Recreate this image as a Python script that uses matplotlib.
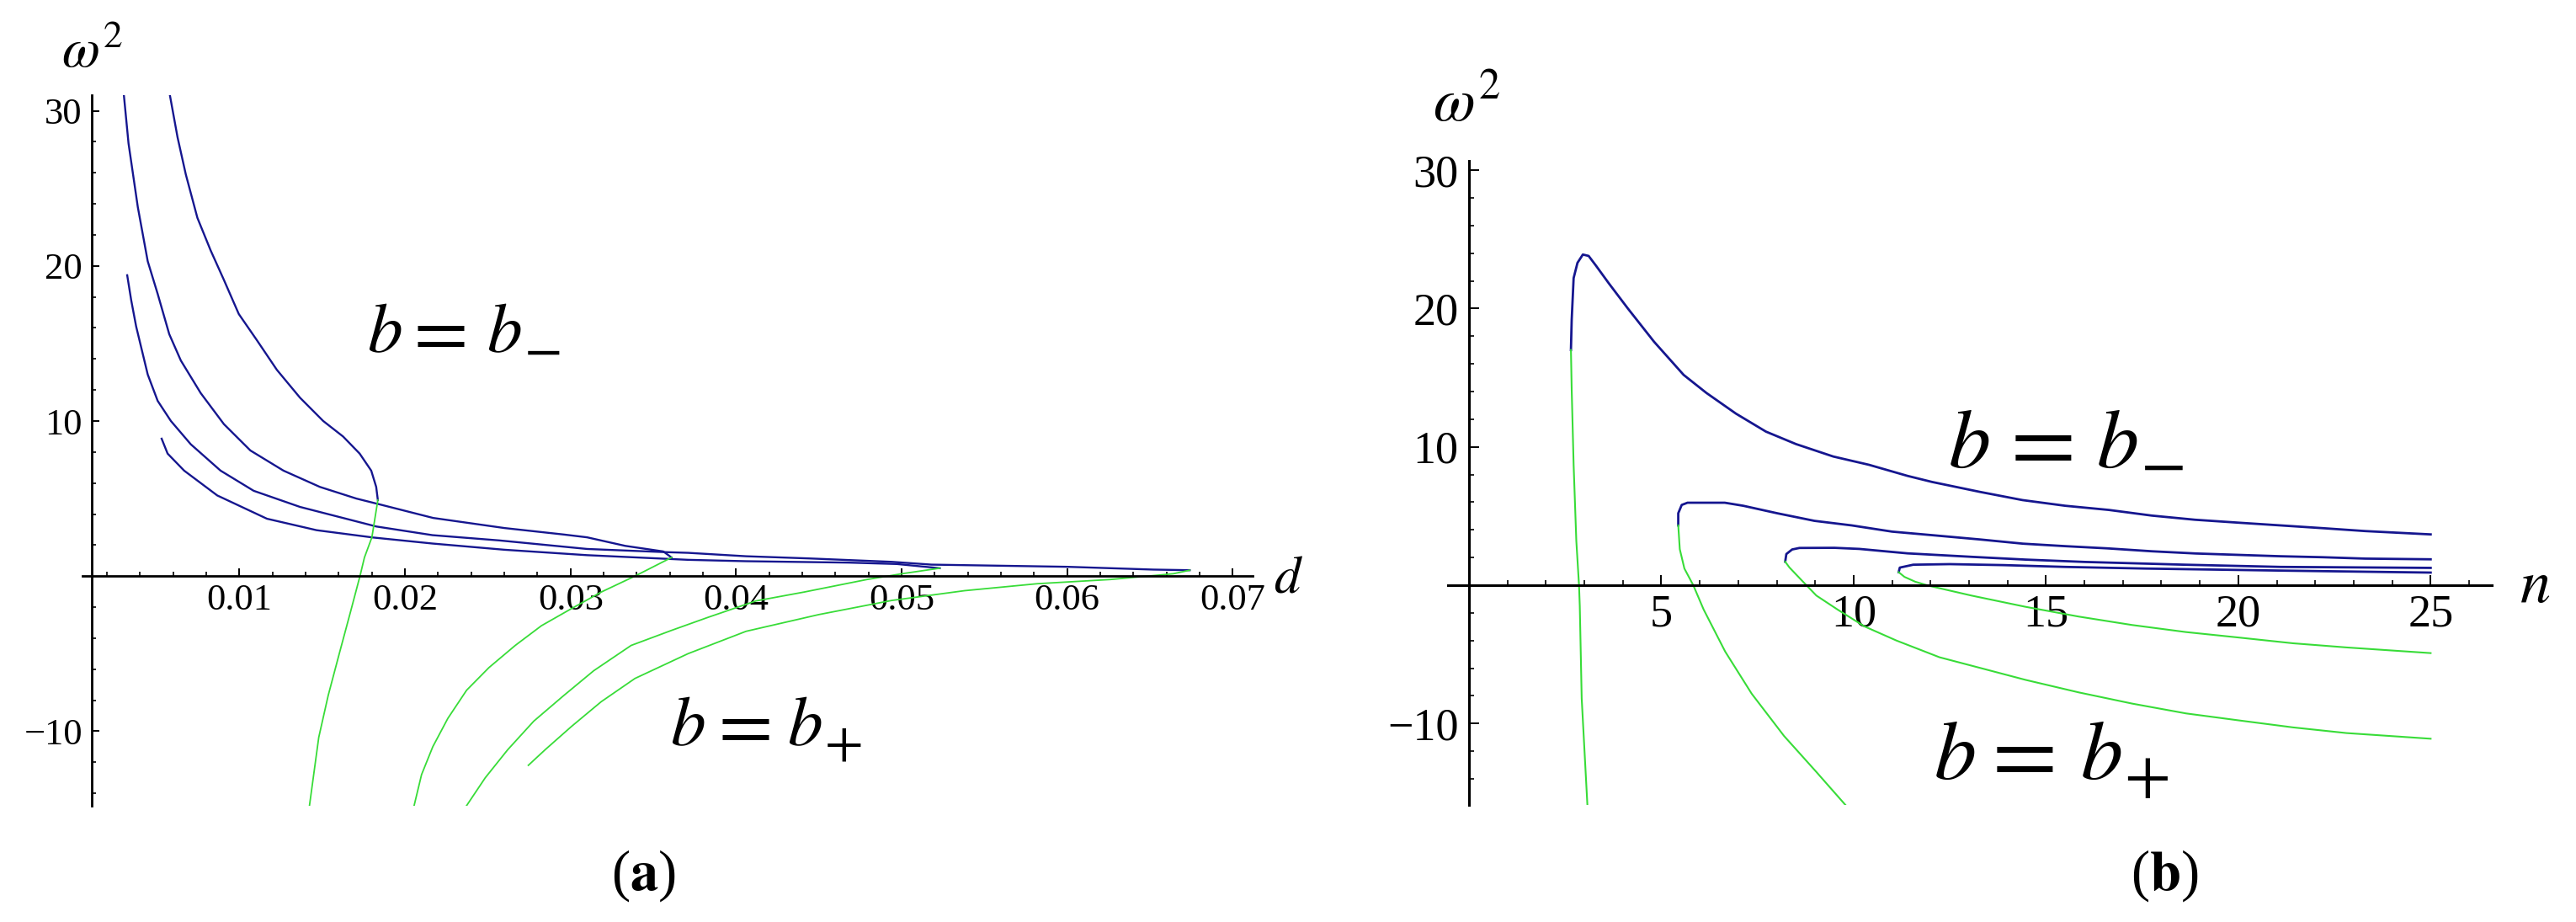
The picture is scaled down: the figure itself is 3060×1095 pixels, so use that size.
import numpy as np
import matplotlib
matplotlib.use("Agg")
import matplotlib.pyplot as plt
from matplotlib.ticker import FixedLocator

plt.rcParams['mathtext.fontset'] = 'stix'
plt.rcParams['font.family'] = ['Liberation Serif', 'DejaVu Serif']

############# Panel (a): omega^2 against d #############

# blue branches, b = b_-
d_A = [0.0058, 0.00626, 0.00676, 0.00746, 0.00826, 0.00906, 0.00996, 0.01106, 0.01226, 0.01366, 0.01506, 0.01626, 0.01726, 0.01796, 0.01826, 0.01836]
w_A = [31.0, 28.3, 25.9, 23.1, 21.0, 19.1, 16.9, 15.2, 13.3, 11.5, 10.0, 9.0, 7.9, 6.8, 5.75, 4.9]

d_B = [0.00302, 0.0033, 0.00386, 0.00446, 0.00506, 0.00576, 0.00646, 0.00766, 0.00906, 0.01066, 0.01266, 0.01486, 0.01706, 0.01856, 0.0217, 0.026, 0.0296, 0.031, 0.0333, 0.0356, 0.0361]
w_B = [31.0, 27.9, 23.8, 20.3, 18.2, 15.6, 13.9, 11.8, 9.8, 8.1, 6.8, 5.75, 5.0, 4.6, 3.75, 3.1, 2.68, 2.5, 1.95, 1.59, 1.2]

d_C = [0.00322, 0.00346, 0.00376, 0.00446, 0.00506, 0.00586, 0.00706, 0.00886, 0.01086, 0.01366, 0.01826, 0.02166, 0.0257, 0.031, 0.0356, 0.0371, 0.0406, 0.0444, 0.0494, 0.0518, 0.06, 0.0652, 0.0674]
w_C = [19.4, 17.8, 16.1, 13.0, 11.3, 10.0, 8.5, 6.8, 5.5, 4.46, 3.2, 2.64, 2.3, 1.75, 1.55, 1.5, 1.28, 1.14, 0.92, 0.74, 0.6, 0.42, 0.38]

d_D = [0.0053, 0.00566, 0.00666, 0.00866, 0.01166, 0.01466, 0.01806, 0.02166, 0.026, 0.031, 0.0371, 0.0406, 0.0468, 0.0497, 0.0523]
w_D = [8.86, 7.9, 6.8, 5.2, 3.7, 2.96, 2.49, 2.1, 1.7, 1.35, 1.05, 0.96, 0.87, 0.78, 0.51]

# green branches, b = b_+
d_G1 = [0.01836, 0.018, 0.01755, 0.01728, 0.01671, 0.01603, 0.01536, 0.01479, 0.01423]
w_G1 = [4.9, 2.5, 1.2, 0.0, -2.3, -5.0, -7.7, -10.4, -14.8]

d_G2 = [0.0361, 0.03389, 0.03185, 0.03005, 0.02824, 0.02666, 0.02507, 0.02372, 0.02259, 0.02168, 0.021, 0.02055]
w_G2 = [1.2, 0.0, -1.03, -2.1, -3.2, -4.47, -5.9, -7.36, -9.17, -11.0, -12.8, -14.8]

d_G3 = [0.0523, 0.05, 0.0479, 0.0441, 0.0412, 0.0383, 0.0361, 0.03366, 0.0314, 0.02959, 0.02778, 0.0262, 0.02485, 0.02372]
w_G3 = [0.51, 0.15, -0.22, -1.03, -1.6, -2.66, -3.5, -4.47, -6.1, -7.7, -9.35, -11.2, -13.0, -14.8]

d_G4 = [0.0674, 0.0664, 0.0626, 0.0582, 0.0538, 0.0494, 0.045, 0.0406, 0.0371, 0.03389, 0.03185, 0.03005, 0.02846, 0.02745]
w_G4 = [0.38, 0.15, -0.22, -0.49, -0.94, -1.57, -2.48, -3.56, -5.0, -6.6, -8.1, -9.7, -11.2, -12.2]

############# Panel (b): omega^2 against n #############

n_R1 = [2.65, 2.67, 2.72, 2.82, 2.96, 3.11, 3.30, 3.64, 4.13, 4.81, 5.58, 6.17, 6.94, 7.72, 8.50, 9.47, 10.4, 11.4, 12.04, 13.27, 14.39, 15.5, 16.63, 17.75, 18.87, 19.99, 21.1, 22.2, 23.3, 25.0]
w_R1 = [17.0, 19.2, 22.2, 23.3, 23.9, 23.8, 23.1, 21.8, 20.0, 17.6, 15.2, 13.9, 12.4, 11.1, 10.2, 9.3, 8.7, 7.9, 7.46, 6.75, 6.15, 5.74, 5.44, 5.03, 4.73, 4.52, 4.32, 4.12, 3.91, 3.67]

n_R2 = [5.44, 5.44, 5.53, 5.68, 6.65, 7.13, 8.01, 8.98, 9.95, 11.0, 12.1, 13.3, 14.4, 15.5, 16.6, 17.75, 18.9, 20.0, 21.1, 22.2, 23.3, 25.0]
w_R2 = [4.32, 5.2, 5.8, 5.96, 5.96, 5.74, 5.2, 4.65, 4.32, 3.87, 3.6, 3.3, 3.0, 2.82, 2.66, 2.45, 2.29, 2.19, 2.09, 2.02, 1.92, 1.87]

n_R3 = [8.22, 8.25, 8.40, 8.59, 9.5, 10.15, 11.4, 13.06, 14.46, 16.0, 18.6, 21.1, 25.0]
w_R3 = [1.70, 2.25, 2.58, 2.69, 2.7, 2.62, 2.3, 2.05, 1.85, 1.68, 1.48, 1.32, 1.25]

n_R4 = [11.17, 11.2, 11.55, 12.5, 13.9, 15.5, 17.6, 21.2, 25.0]
w_R4 = [0.94, 1.27, 1.48, 1.52, 1.45, 1.32, 1.2, 1.05, 0.91]

n_GR1 = [2.65, 2.67, 2.72, 2.79, 2.86, 2.88, 2.93, 3.08]
w_GR1 = [17.0, 14.1, 8.7, 3.2, 0.0, -1.5, -8.2, -16.0]

n_GR2 = [5.44, 5.48, 5.6, 5.83, 6.1, 6.66, 7.35, 8.19, 9.03, 9.79]
w_GR2 = [4.32, 2.6, 1.2, 0.0, -1.76, -4.8, -7.85, -10.9, -13.5, -15.9]

n_GR3 = [8.22, 8.33, 8.68, 9.03, 9.58, 10.28, 11.11, 12.23, 13.34, 14.46, 15.85, 17.24, 18.64, 20.03, 21.42, 22.81, 25.0]
w_GR3 = [1.70, 1.28, 0.26, -0.75, -1.76, -2.98, -4.0, -5.21, -6.02, -6.84, -7.75, -8.56, -9.27, -9.78, -10.28, -10.69, -11.1]

n_GR4 = [11.17, 11.32, 11.6, 11.95, 13.06, 14.46, 15.85, 17.24, 18.64, 20.03, 21.42, 22.81, 25.0]
w_GR4 = [0.94, 0.6, 0.25, -0.04, -0.75, -1.56, -2.27, -2.88, -3.39, -3.79, -4.2, -4.5, -4.91]

# tick labels
xt_a = [0.01, 0.02, 0.03, 0.04, 0.05, 0.06, 0.07]
xl_a = ['0.01', '0.02', '0.03', '0.04', '0.05', '0.06', '0.07']
yt = [-10, 10, 20, 30]
yl = ['\u221210', '10', '20', '30']
xt_b = [5, 10, 15, 20, 25]
xl_b = ['5', '10', '15', '20', '25']

blue = '#15168f'
green = '#38dc38'

W, H = 3060, 1095

def box(x0, x1, ytop, ybot):
    return [x0/W, 1-ybot/H, (x1-x0)/W, (ybot-ytop)/H]

def fx(px):
    return px/W

def fy(py):
    return 1-py/H

def style_axes(ax, x0, maj, mnr, fs, padx, pady, lw):
    for s in ['top', 'right']:
        ax.spines[s].set_visible(False)
    ax.spines['left'].set_position(('data', x0))
    ax.spines['bottom'].set_position(('data', 0))
    ax.spines['left'].set_linewidth(lw)
    ax.spines['bottom'].set_linewidth(lw)
    ax.tick_params(which='major', direction='in', length=maj, width=1.4, labelsize=fs)
    ax.tick_params(which='minor', direction='in', length=mnr, width=1.2)
    ax.tick_params(axis='x', which='major', pad=padx)
    ax.tick_params(axis='y', which='major', pad=pady)

# "b = b_sign" put together piece by piece (pixel positions of the pieces)
def branch_label(xb1, xeq, xb2, base, size, sign):
    em = size*100/72.
    fig.text(fx(xb1), fy(base), r'$b$', fontsize=size, ha='left', va='baseline')
    fig.text(fx(xeq), fy(base + 0.06*em), '=', family='STIXGeneral', fontsize=1.12*size,
             ha='left', va='baseline')
    fig.text(fx(xb2), fy(base), r'$b$', fontsize=size, ha='left', va='baseline')
    ssize = 0.8*size
    fig.text(fx(xb2 + 0.5*em + 2), fy(base + 0.25*ssize*100/72.), '$' + sign + '$',
             fontsize=ssize, ha='left', va='baseline')

fig = plt.figure(figsize=(30.6, 10.95), dpi=100)

############# (a) #############

ax1 = fig.add_axes(box(98, 1488, 113.2, 956.8))
for dd, ww in [(d_A, w_A), (d_B, w_B), (d_C, w_C), (d_D, w_D)]:
    ax1.plot(dd, ww, color=blue, lw=1.7)
for dd, ww in [(d_G1, w_G1), (d_G2, w_G2), (d_G3, w_G3), (d_G4, w_G4)]:
    ax1.plot(dd, ww, color=green, lw=1.3)
ax1.set_xlim(0.00052, 0.0712)
ax1.set_ylim(-14.8, 31.0)
ax1.set_xticks(xt_a)
ax1.set_xticklabels(xl_a)
ax1.set_yticks(yt)
ax1.set_yticklabels(yl)
ax1.xaxis.set_minor_locator(FixedLocator([i*0.002 for i in range(1, 36) if i % 5 != 0]))
ax1.yaxis.set_minor_locator(FixedLocator([v for v in range(-14, 31, 2) if v % 10 != 0]))
style_axes(ax1, 0.00108, 6.5, 3.5, 32, 6, 8, 2.0)

############# (b) #############

ax2 = fig.add_axes(box(1719.6, 2960, 191.4, 956.2))
for nn, ww in [(n_R1, w_R1), (n_R2, w_R2), (n_R3, w_R3), (n_R4, w_R4)]:
    ax2.plot(nn, ww, color=blue, lw=2.0)
for nn, ww in [(n_GR1, w_GR1), (n_GR2, w_GR2), (n_GR3, w_GR3), (n_GR4, w_GR4)]:
    ax2.plot(nn, ww, color=green, lw=1.5)
ax2.set_xlim(-0.556, 26.59)
ax2.set_ylim(-15.9, 30.65)
ax2.set_xticks(xt_b)
ax2.set_xticklabels(xl_b)
ax2.set_yticks(yt)
ax2.set_yticklabels(yl)
ax2.xaxis.set_minor_locator(FixedLocator([v for v in range(1, 27) if v % 5 != 0]))
ax2.yaxis.set_minor_locator(FixedLocator([v for v in range(-14, 31, 2) if v % 10 != 0]))
style_axes(ax2, 0, 8.6, 4.5, 39, 7, 9, 2.2)

############# labels #############

fig.text(fx(73), fy(80), r'$\omega^{2}$', fontsize=47, ha='left', va='baseline')
fig.text(fx(1513), fy(703), r'$d$', fontsize=45, ha='left', va='baseline')
branch_label(436, 491, 578, 418, 60, '-')
branch_label(796, 853, 935, 885, 60, '+')

fig.text(fx(1702), fy(143), r'$\omega^{2}$', fontsize=52, ha='left', va='baseline')
fig.text(fx(2993), fy(715), r'$n$', fontsize=52, ha='left', va='baseline')
branch_label(2314, 2389, 2490, 555, 72, '-')
branch_label(2297, 2367, 2471, 925, 72, '+')

fig.text(fx(764), fy(1057), r'($\mathbf{a}$)', fontsize=48, ha='center', va='baseline')
fig.text(fx(2571), fy(1057), r'($\mathbf{b}$)', fontsize=48, ha='center', va='baseline')

plt.savefig('out.png', dpi=100)
